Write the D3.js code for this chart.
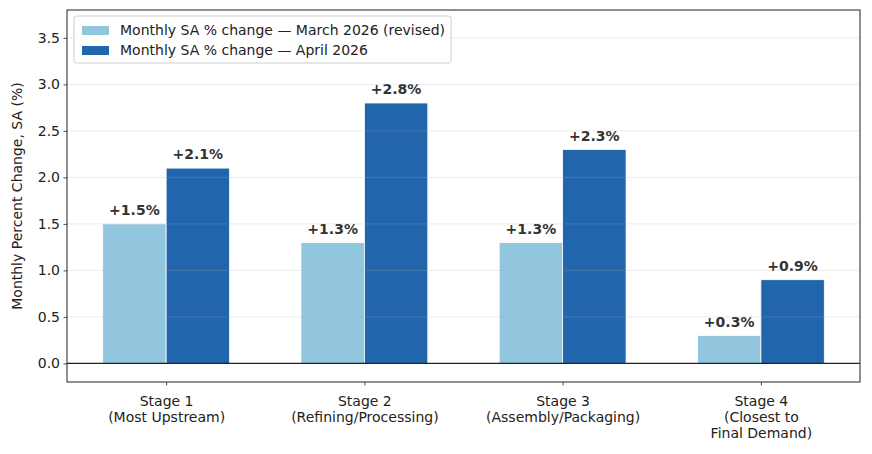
<!DOCTYPE html>
<html>
<head>
<meta charset="utf-8">
<script src="https://cdn.jsdelivr.net/npm/d3@7"></script>
<style>
  body { margin: 0; background: #fff; }
  svg, svg text { font-family: "DejaVu Sans", sans-serif; }
</style>
</head>
<body>
<svg width="872" height="454"></svg>
<script>
const stages = [
    ["Stage 1", "(Most Upstream)"],
    ["Stage 2", "(Refining/Processing)"],
    ["Stage 3", "(Assembly/Packaging)"],
    ["Stage 4", "(Closest to", "Final Demand)"]
];
const march = [1.5, 1.3, 1.3, 0.3];
const april = [2.1, 2.8, 2.3, 0.9];
const seriesNames = [
    "Monthly SA % change \u2014 March 2026 (revised)",
    "Monthly SA % change \u2014 April 2026"
];
const yTicks = [0.0, 0.5, 1.0, 1.5, 2.0, 2.5, 3.0, 3.5];

const svg = d3.select("svg");
const margin = { top: 10, right: 12, bottom: 72, left: 67 };
const width = +svg.attr("width");
const height = +svg.attr("height");
const innerWidth = width - margin.left - margin.right;
const innerHeight = height - margin.top - margin.bottom;

const colors = ["#92c5de", "#2166ac"];
const barW = 0.32;

const xScale = d3.scaleLinear().domain([-0.5, stages.length - 0.5]).range([0, innerWidth]);
const yScale = d3.scaleLinear().domain([-0.2, 3.8]).range([innerHeight, 0]);

const g = svg.append("g").attr("transform", `translate(${margin.left},${margin.top})`);

const series = [march, april];

// bars + value labels
series.forEach((vals, si) => {
    const off = si === 0 ? -barW : 0;
    g.append("g").selectAll("rect").data(vals).enter().append("rect")
        .attr("x", (d, i) => xScale(i + off))
        .attr("y", d => yScale(d))
        .attr("width", xScale(barW) - xScale(0))
        .attr("height", d => yScale(0) - yScale(d))
        .attr("fill", colors[si])
        .attr("stroke", "#fff")
        .attr("stroke-width", 0.8);

    g.append("g").selectAll("text").data(vals).enter().append("text")
        .attr("x", (d, i) => xScale(i + off + barW / 2))
        .attr("y", d => yScale(d) - 9)
        .attr("text-anchor", "middle")
        .attr("font-size", 14)
        .attr("font-weight", "bold")
        .attr("fill", "#333")
        .text(d => "+" + d.toFixed(1) + "%");
});

// grid (drawn over bars, faint)
g.append("g").selectAll("line").data(yTicks.filter(d => d > 0)).enter().append("line")
    .attr("x1", 0).attr("x2", innerWidth)
    .attr("y1", d => yScale(d)).attr("y2", d => yScale(d))
    .attr("stroke", "#b0b0b0").attr("stroke-opacity", 0.3).attr("stroke-width", 0.8);

// zero line
g.append("line")
    .attr("x1", 0).attr("x2", innerWidth)
    .attr("y1", yScale(0)).attr("y2", yScale(0))
    .attr("stroke", "#222").attr("stroke-width", 1.2);

// axes
const yAxis = g.append("g")
    .call(d3.axisLeft(yScale).tickValues(yTicks).tickFormat(d3.format(".1f")).tickSize(3.5).tickPadding(3.5));
const xAxis = g.append("g").attr("transform", `translate(0,${innerHeight})`)
    .call(d3.axisBottom(xScale).tickValues(d3.range(stages.length)).tickFormat("").tickSize(3.5));
xAxis.selectAll(".tick text").remove();
[yAxis, xAxis].forEach(a => {
    a.attr("font-family", "DejaVu Sans, sans-serif");
    a.select(".domain").remove();
    a.selectAll("line").attr("stroke", "#222").attr("stroke-width", 0.8);
    a.selectAll("text").attr("font-size", 14).attr("fill", "#222");
});

xAxis.selectAll(".tick").each(function(d) {
    const t = d3.select(this).append("text")
        .attr("text-anchor", "middle")
        .attr("font-size", 14)
        .attr("font-family", "DejaVu Sans, sans-serif")
        .attr("fill", "#222")
        .attr("y", 24);
    stages[d].forEach((s, k) => {
        t.append("tspan").attr("x", 0).attr("dy", k === 0 ? 0 : 16).text(s);
    });
});

// frame
g.append("rect")
    .attr("width", innerWidth).attr("height", innerHeight)
    .attr("fill", "none").attr("stroke", "#222").attr("stroke-width", 1);

// y label
svg.append("text")
    .attr("transform", `translate(22,${margin.top + innerHeight / 2}) rotate(-90)`)
    .attr("text-anchor", "middle")
    .attr("font-size", 14)
    .attr("fill", "#222")
    .text("Monthly Percent Change, SA (%)");

// legend
const lg = g.append("g").attr("transform", "translate(7,6)");
lg.append("rect")
    .attr("width", 377).attr("height", 47).attr("rx", 2.5)
    .attr("fill", "#fff").attr("fill-opacity", 0.8)
    .attr("stroke", "#ccc").attr("stroke-width", 1);
seriesNames.forEach((name, i) => {
    const row = lg.append("g").attr("transform", `translate(8,${14 + i * 20})`);
    row.append("rect").attr("x", 0).attr("y", -4).attr("width", 27).attr("height", 9).attr("fill", colors[i]);
    row.append("text").attr("x", 38).attr("y", 0).attr("dy", "0.35em")
        .attr("font-size", 14).attr("fill", "#222").text(name);
});
</script>
</body>
</html>
